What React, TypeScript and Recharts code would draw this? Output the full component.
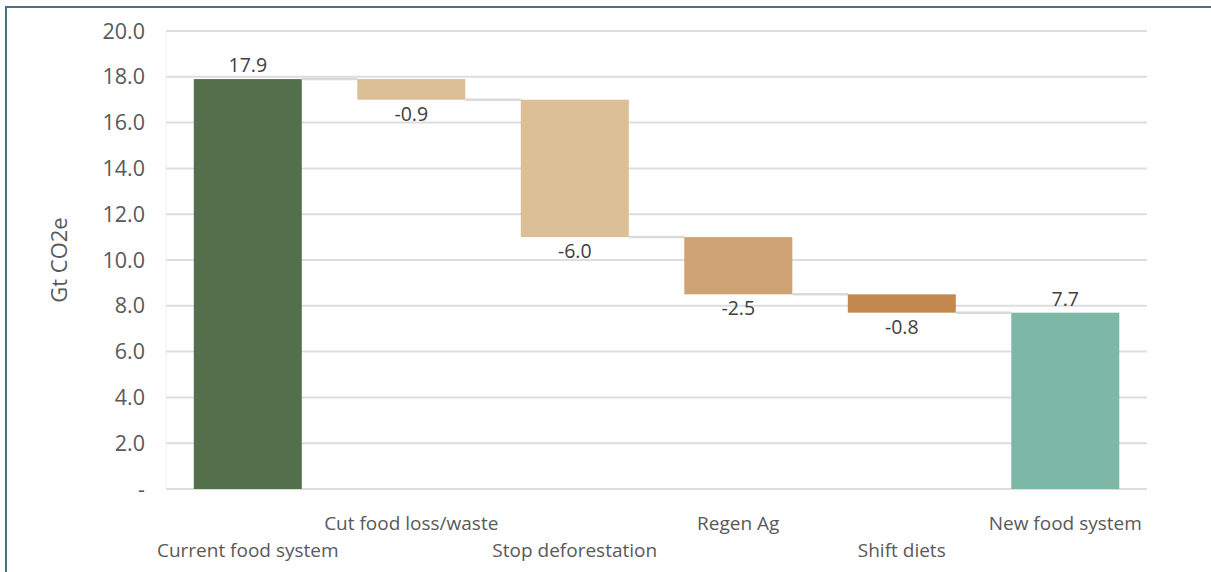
import { BarChart, Bar, XAxis, YAxis, CartesianGrid, LabelList, Cell } from "recharts";

const categories = [
  "Current food system",
  "Cut food loss/waste",
  "Stop deforestation",
  "Regen Ag",
  "Shift diets",
  "New food system",
];
const values = [17.9, -0.9, -6.0, -2.5, -0.8, 7.7];
const isTotal = [true, false, false, false, false, true];
const colors = ["#546f4b", "#ddbf97", "#ddbf97", "#cda274", "#c38850", "#7db8a6"];
const yTicks = [0, 2, 4, 6, 8, 10, 12, 14, 16, 18, 20];

// build waterfall rows: invisible base + visible size
let running = 0;
const data = categories.map((name, i) => {
  const v = values[i];
  let base = 0;
  let size = v;
  if (isTotal[i]) {
    running = v;
  } else {
    const next = running + v;
    base = Math.min(running, next);
    size = Math.abs(v);
    running = next;
  }
  return { name, base, size, value: v, total: isTotal[i], last: i === categories.length - 1 };
});

const GAP = 0.17; // barCategoryGap per side

const StepBar = (props: any) => {
  const { x, y, width, height, fill, payload } = props;
  const level = payload.total ? y : y + height;
  const len = (width * 2 * GAP) / (1 - 2 * GAP);
  return (
    <g>
      <rect x={x} y={y} width={width} height={height} fill={fill} />
      {!payload.last && (
        <line x1={x + width} x2={x + width + len} y1={level} y2={level} stroke="#d9d9d9" strokeWidth={2.5} />
      )}
    </g>
  );
};

const ValueLabel = (props: any) => {
  const { x, y, width, height, value } = props;
  const above = value > 0;
  return (
    <text
      x={x + width / 2}
      y={above ? y - 7 : y + height + 21}
      textAnchor="middle"
      fontSize={19.5}
      fill="#404040"
      fontFamily="Open Sans"
    >
      {value.toFixed(1)}
    </text>
  );
};

const StaggerTick = (props: any) => {
  const { x, y, payload, index } = props;
  const upper = index % 2 === 1;
  return (
    <text
      x={x}
      y={y + (upper ? 33 : 60)}
      textAnchor="middle"
      fontSize={19}
      fill="#595959"
      fontFamily="Open Sans"
    >
      {payload.value}
    </text>
  );
};

export default function App() {
  return (
    <div style={{ position: "absolute", left: 0, top: 0, width: 1211, height: 572, overflow: "hidden", background: "#fff" }}>
      <div
        style={{
          position: "absolute",
          left: 5,
          top: 6,
          width: 1300,
          height: 700,
          borderLeft: "2px solid #4f6e80",
          borderTop: "2px solid #4f6e80",
        }}
      />
      <div style={{ position: "absolute", left: 0, top: 0 }}>
        <BarChart
          width={1211}
          height={572}
          data={data}
          margin={{ top: 31, right: 64, bottom: 0, left: 0 }}
          barCategoryGap="17%"
        >
          <CartesianGrid vertical={false} stroke="#dddddd" strokeWidth={2} />
          <XAxis
            dataKey="name"
            axisLine={false}
            tickLine={false}
            height={83}
            interval={0}
            tick={<StaggerTick />}
          />
          <YAxis
            domain={[0, 20]}
            ticks={yTicks}
            width={166}
            axisLine={{ stroke: "#f0f0f0" }}
            tickLine={false}
            tickMargin={15}
            tick={{ fontSize: 21.5, fill: "#595959", fontFamily: "Open Sans" }}
            tickFormatter={(v: number) => (v === 0 ? "-" : v.toFixed(1))}
            label={{
              value: "Gt CO2e",
              angle: -90,
              position: "insideLeft",
              dx: 54,
              style: { fontSize: 22, fill: "#595959", fontFamily: "Open Sans", textAnchor: "middle" },
            }}
          />
          <Bar dataKey="base" stackId="w" fill="transparent" isAnimationActive={false} />
          <Bar dataKey="size" stackId="w" shape={<StepBar />} isAnimationActive={false}>
            {data.map((d, i) => (
              <Cell key={`c-${i}`} fill={colors[i]} />
            ))}
            <LabelList dataKey="value" content={<ValueLabel />} />
          </Bar>
        </BarChart>
      </div>
    </div>
  );
}
